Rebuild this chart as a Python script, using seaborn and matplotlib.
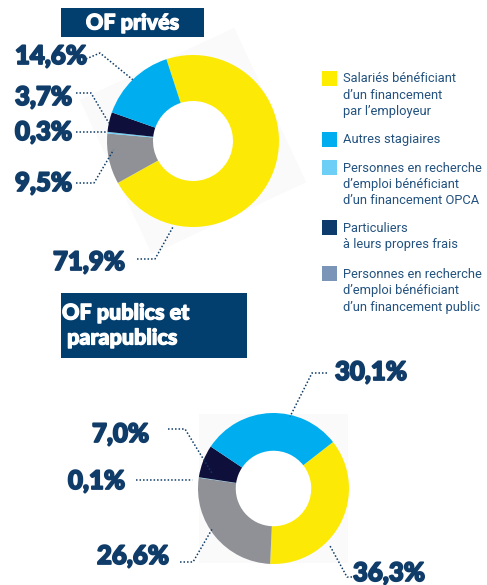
import numpy as np
import matplotlib
matplotlib.use("Agg")
import matplotlib.pyplot as plt
import matplotlib.patheffects as pe
import seaborn as sns
from matplotlib.patches import Rectangle, Circle

# ---------------- data ----------------
categories = [
    "Salariés bénéficiant\nd’un financement\npar l’employeur",
    "Autres stagiaires",
    "Personnes en recherche\nd’emploi bénéficiant\nd’un financement OPCA",
    "Particuliers\nà leurs propres frais",
    "Personnes en recherche\nd’emploi bénéficiant\nd’un financement public",
]
prives = [71.9, 14.6, 0.3, 3.7, 9.5]
publics = [36.3, 30.1, 0.1, 7.0, 26.6]
titles = ["OF privés", "OF publics et\n parapublics"]

# ---------------- style ----------------
sns.set_theme(style="white")
plt.rcParams["font.family"] = ["Lato", "DejaVu Sans"]

pie_colors = ["#FCEA06", "#00AEEF", "#6DCFF6", "#0E0F3B", "#8F9196"]
legend_colors = ["#FFED00", "#00AEEF", "#6DCFF6", "#0D3B6B", "#7B95B8"]
navy = "#0F3C68"
box_color = "#023E6E"
legend_text_color = "#23527F"
pie_order = [0, 4, 2, 3, 1]  # clockwise drawing order

W, H = 487, 585
fig = plt.figure(figsize=(W / 100, H / 100), dpi=100)
fig.patch.set_facecolor("white")

# background axes (shadows)
bg = fig.add_axes([0, 0, 1, 1], zorder=0)
bg.set_xlim(0, W)
bg.set_ylim(H, 0)
bg.axis("off")


def add_pie(cx, cy, R, values, start, width):
    ax = fig.add_axes([(cx - R) / W, 1 - (cy + R) / H, 2 * R / W, 2 * R / H], zorder=1)
    vals = [values[i] for i in pie_order]
    cols = [pie_colors[i] for i in pie_order]
    ax.pie(vals, colors=cols, startangle=start, counterclock=False,
           wedgeprops=dict(width=width, linewidth=0))
    ax.add_patch(Circle((0, 0), 1 - width + 0.005, color="white", lw=0, zorder=0))
    ax.set_xlim(-1, 1)
    ax.set_ylim(-1, 1)
    ax.set_aspect("auto")
    ax.axis("off")
    ax.patch.set_alpha(0)
    return ax


# top donut
c1 = (193, 141, 86)
add_pie(*c1, prives, 108, 0.535)
# bottom donut
c2 = (273.5, 488.5, 75.5)
add_pie(*c2, publics, 38, 0.5)

ov = fig.add_axes([0, 0, 1, 1], zorder=2)
ov.set_xlim(0, W)
ov.set_ylim(H, 0)
ov.axis("off")
ov.patch.set_alpha(0)

# faint shadow squares behind donuts
for (cx, cy, R), ang in [(c1, 20), (c2, 45)]:
    s = R * 1.4
    t = np.deg2rad(ang + np.array([0, 90, 180, 270]))
    bg.fill(cx + s * np.cos(t), cy + s * np.sin(t), color="#FAFAFA", lw=0)


def fmt(v):
    return f"{v:.1f}".replace(".", ",") + "%"


heavy_navy = [pe.withStroke(linewidth=1.3, foreground=navy)]
heavy_white = [pe.withStroke(linewidth=0.9, foreground="white")]

# label layouts: (category index, text x, text y, elbow points, target angle, target r)
layout_top = [
    (1, 15, 56, [(86, 59), (100, 53)], 134.5, 1.0),
    (3, 15, 97, [(76, 93), (91, 93)], 168, 1.0),
    (2, 15, 132, [(76, 132)], 174, 1.0),
    (4, 15, 183, [(76, 183), (94, 183)], 186.4, 0.93),
    (0, 53, 262, [(137, 259), (155, 259)], 257, 1.02),
]
layout_bot = [
    (1, 335, 372, [(327, 373), (312, 373)], 77, 0.98),
    (3, 92, 434, [(168, 429), (185, 429)], 166, 0.84),
    (2, 68, 481, [(136, 480)], 174, 1.08),
    (4, 97, 556, [(180, 562), (193, 562)], 213, 0.96),
    (0, 353, 573, [(352, 577), (347, 577)], -45.5, 1.07),
]

for (cx, cy, R), vals, lay in [(c1, prives, layout_top), (c2, publics, layout_bot)]:
    for idx, tx, ty, pts, ang, r in lay:
        ov.text(tx, ty, fmt(vals[idx]), ha="left", va="center", fontsize=18.5,
                fontweight="black", color=navy, path_effects=heavy_navy)
        a = np.deg2rad(ang)
        px = [p[0] for p in pts] + [cx + r * R * np.cos(a)]
        py = [p[1] for p in pts] + [cy - r * R * np.sin(a)]
        ov.plot(px, py, color=navy, lw=1.1, ls=(0, (1, 1.3)))

# title boxes
ov.add_patch(Rectangle((61, 8), 143, 29, color=box_color, lw=0))
ov.text(132.5, 23, titles[0], ha="center", va="center", color="white",
        fontsize=15.5, fontweight="black", path_effects=heavy_white)
ov.add_patch(Rectangle((61, 293), 186, 65, color=box_color, lw=0))
l1, l2 = titles[1].split("\n")
ov.text(62, 313, l1, ha="left", va="center", color="white", fontsize=15.5,
        fontweight="black", path_effects=heavy_white)
ov.text(62, 338, l2, ha="left", va="center", color="white", fontsize=15.5,
        fontweight="black", path_effects=heavy_white)

# legend
tops = [71, 132, 160, 220, 266]
for i, (lab, top) in enumerate(zip(categories, tops)):
    ov.add_patch(Rectangle((322, top), 15, 15, color=legend_colors[i], lw=0))
    for j, line in enumerate(lab.split("\n")):
        ov.text(343, top + 8 + 16.5 * j, line, ha="left", va="center",
                fontsize=9.3, color=legend_text_color,
                family=["Liberation Sans Narrow", "Roboto", "DejaVu Sans"])

fig.savefig("out.png", dpi=100, facecolor="white")
